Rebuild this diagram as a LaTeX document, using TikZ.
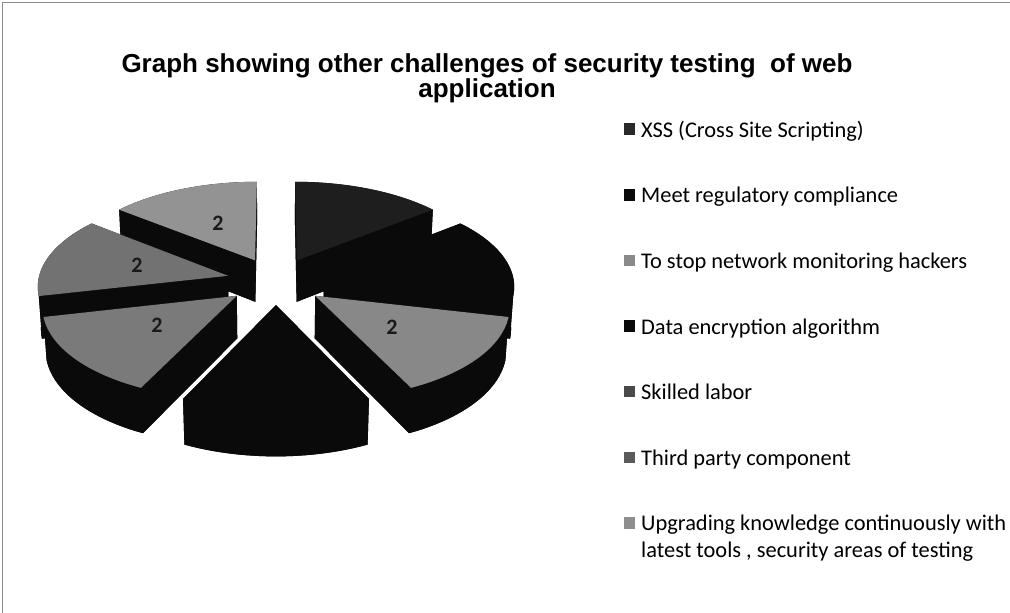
\documentclass[tikz,border=0pt]{standalone}
\usepackage{fontspec}
\setmainfont{Carlito}
\newfontfamily\arialfont{Liberation Sans}
\definecolor{sidec}{HTML}{0A0A0A}
\definecolor{cA}{HTML}{1E1E1E}
\definecolor{cB}{HTML}{0A0A0A}
\definecolor{cC}{HTML}{888888}
\definecolor{cD}{HTML}{0A0A0A}
\definecolor{cE}{HTML}{7A7A7A}
\definecolor{cF}{HTML}{727272}
\definecolor{cG}{HTML}{939393}
\definecolor{lgA}{HTML}{2A2A2A}
\definecolor{lgB}{HTML}{0A0A0A}
\definecolor{lgC}{HTML}{8A8A8A}
\definecolor{lgD}{HTML}{0A0A0A}
\definecolor{lgE}{HTML}{4A4A4A}
\definecolor{lgF}{HTML}{5A5A5A}
\definecolor{lgG}{HTML}{8E8E8E}
\newcommand\slicethick{-0.255}
\newcommand\drawslice[2]{%
  \pgfmathsetmacro\slA{90-#1*360/7}%
  \pgfmathsetmacro\slB{90-(#1-1)*360/7}%
  \pgfmathsetmacro\slM{90-(#1-0.5)*360/7}%
  \pgfmathsetmacro\slX{0.26*cos(\slM)}%
  \pgfmathsetmacro\slY{0.26*sin(\slM)}%
  % bottom sector
  \fill[sidec] ({PX(\slX,\slY,\slicethick)},{PY(\slX,\slY,\slicethick)})
    -- plot[domain=\slA:\slB,samples=30,variable=\t]
       ({PX(\slX+cos(\t),\slY+sin(\t),\slicethick)},{PY(\slX+cos(\t),\slY+sin(\t),\slicethick)}) -- cycle;
  % outer side
  \fill[sidec] plot[domain=\slA:\slB,samples=30,variable=\t]
       ({PX(\slX+cos(\t),\slY+sin(\t),0)},{PY(\slX+cos(\t),\slY+sin(\t),0)})
    -- plot[domain=\slB:\slA,samples=30,variable=\t]
       ({PX(\slX+cos(\t),\slY+sin(\t),\slicethick)},{PY(\slX+cos(\t),\slY+sin(\t),\slicethick)}) -- cycle;
  % cut faces
  \foreach \ang in {\slA,\slB}{%
    \fill[sidec] ({PX(\slX,\slY,0)},{PY(\slX,\slY,0)})
      -- ({PX(\slX+cos(\ang),\slY+sin(\ang),0)},{PY(\slX+cos(\ang),\slY+sin(\ang),0)})
      -- ({PX(\slX+cos(\ang),\slY+sin(\ang),\slicethick)},{PY(\slX+cos(\ang),\slY+sin(\ang),\slicethick)})
      -- ({PX(\slX,\slY,\slicethick)},{PY(\slX,\slY,\slicethick)}) -- cycle;
  }
  % top face
  \fill[#2] ({PX(\slX,\slY,0)},{PY(\slX,\slY,0)})
    -- plot[domain=\slA:\slB,samples=30,variable=\t]
       ({PX(\slX+cos(\t),\slY+sin(\t),0)},{PY(\slX+cos(\t),\slY+sin(\t),0)}) -- cycle;
}
\begin{document}
\begin{tikzpicture}[x=1pt,y=-1pt,
  declare function={
    dep(\y,\z)=1+0.111*((\y)*0.8805-(\z)*0.4741);
    PX(\x,\y,\z)=276+190*(\x)/dep(\y,\z);
    PY(\x,\y,\z)=281-190*((\y)*0.4741+(\z)*0.8805)/dep(\y,\z);
  },
  lgbox/.style={minimum width=11.5pt,minimum height=11.5pt,inner sep=0pt,anchor=south west},
  lgtext/.style={anchor=base west,inner sep=0pt,font=\fontsize{22.4}{27}\selectfont},
  val/.style={font=\fontsize{22}{22}\selectfont\bfseries,text=black!90,inner sep=0pt}]
\useasboundingbox (0,0) rectangle (1010,613);
\fill[white] (0,0) rectangle (1010,613);
\draw[black!45,line width=0.8pt] (2.5,613) -- (2.5,2.5) -- (1010,2.5);
% title
\node[font=\arialfont\bfseries\fontsize{26}{24}\selectfont,align=center] (title) at (487,78)
  {Graph showing other challenges of security testing\ \ of web\\application};
% pie (back to front)
\drawslice{7}{cG}
\drawslice{1}{cA}
\drawslice{6}{cF}
\drawslice{2}{cB}
\drawslice{5}{cE}
\drawslice{3}{cC}
\drawslice{4}{cD}
% data labels
\node[val] (v7) at (218,223) {2};
\node[val] (v6) at (137,265) {2};
\node[val] (v5) at (157,325) {2};
\node[val] (v3) at (392,327) {2};
% legend
\node[lgbox,fill=lgA] (kA) at (623.3,135) {};
\node[lgtext] (tA) at (641,137) {XSS (Cross Site Scripting)};
\node[lgbox,fill=lgB] (kB) at (623.3,200.7) {};
\node[lgtext] (tB) at (641,202.7) {Meet regulatory compliance};
\node[lgbox,fill=lgC] (kC) at (623.3,266.5) {};
\node[lgtext] (tC) at (641,268.5) {To stop network monitoring hackers};
\node[lgbox,fill=lgD] (kD) at (623.3,332) {};
\node[lgtext] (tD) at (641,334) {Data encryption algorithm};
\node[lgbox,fill=lgE] (kE) at (623.3,397.5) {};
\node[lgtext] (tE) at (641,399.5) {Skilled labor};
\node[lgbox,fill=lgF] (kF) at (623.3,463.5) {};
\node[lgtext] (tF) at (641,465.5) {Third party component};
\node[lgbox,fill=lgG] (kG) at (623.3,528.7) {};
\node[lgtext] (tG) at (641,530.7) {\begin{tabular}[t]{@{}l@{}}Upgrading knowledge continuously with\\latest tools , security areas of testing\end{tabular}};
\end{tikzpicture}
\end{document}
